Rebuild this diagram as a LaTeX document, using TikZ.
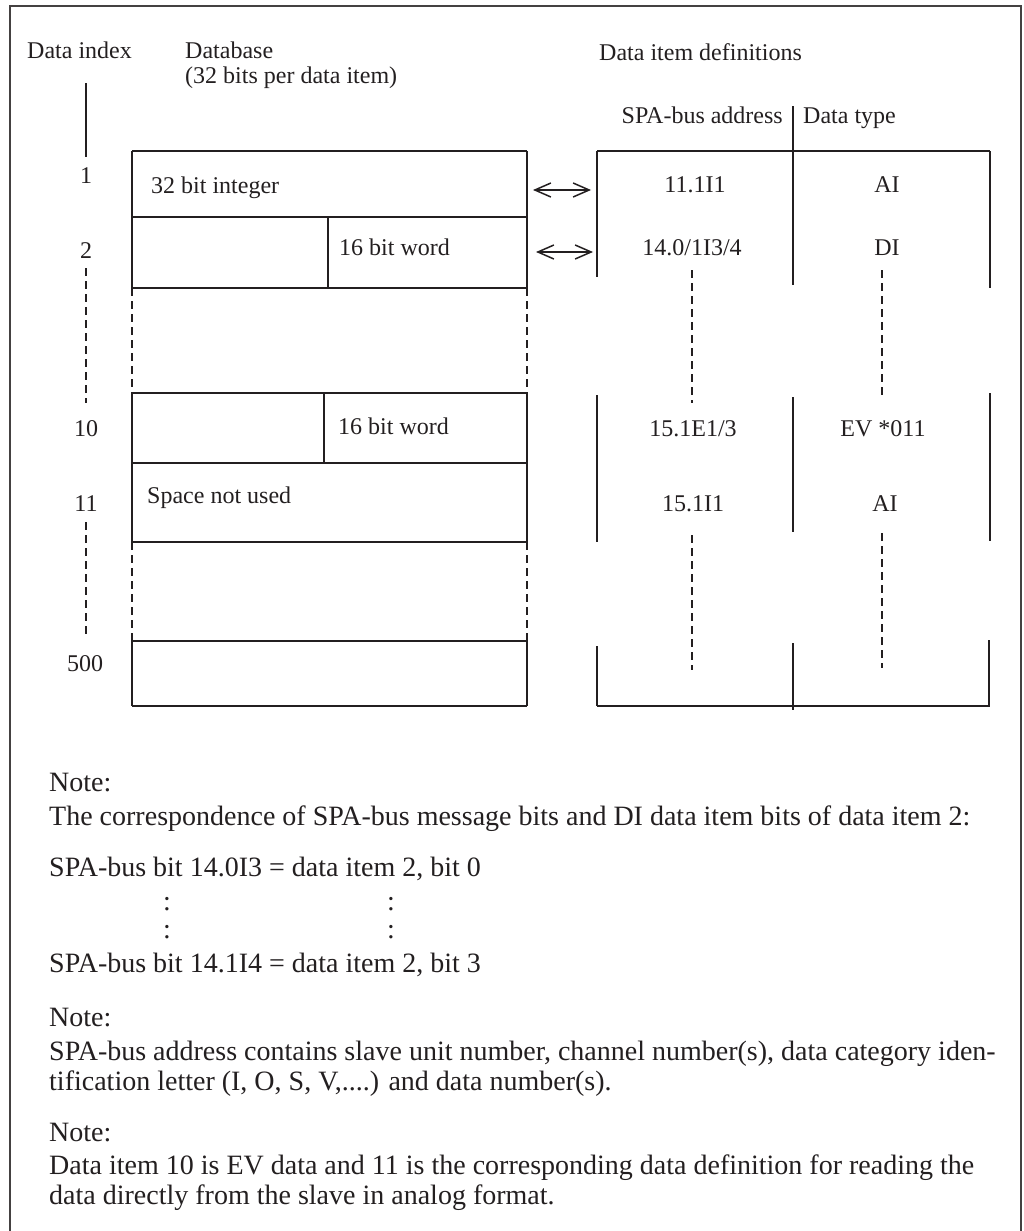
\documentclass[tikz,border=0pt]{standalone}
\usepackage{fontspec}
\setmainfont{Liberation Serif}
\usetikzlibrary{arrows.meta}
\definecolor{ink}{HTML}{231F20}
\begin{document}
\begin{tikzpicture}[x=1pt,y=-1pt,
 lbl/.style={inner sep=0pt, anchor=base, font=\fontsize{24}{28}\selectfont, text=ink},
 lblw/.style={lbl, anchor=base west},
 note/.style={inner sep=0pt, anchor=base west, font=\fontsize{28}{33}\selectfont, text=ink},
 tline/.style={draw=ink, line width=1.7pt},
 dline/.style={draw=ink, line width=1.7pt, dash pattern=on 8pt off 5pt},
 frameline/.style={draw=ink!85, line width=1.3pt},
 dbl/.style={draw=ink, line width=1.5pt, arrows={Straight Barb[length=16pt,width=14pt]-Straight Barb[length=16pt,width=14pt]}}]
\useasboundingbox (0,0) rectangle (1023,1231);
% outer frame
\draw[frameline] (10,1240) -- (10,6) -- (1021,6) -- (1021,1240);

% headings
\node[lblw] (hidx) at (27,59) {Data index};
\node[lblw] (hdb) at (185,59) {Database};
\node[lblw] (hdb2) at (185,83) {(32 bits per data item)};
\node[lblw] (hdef) at (599,61) {Data item definitions};
\node[lbl, anchor=base east] (hspa) at (783,123) {SPA-bus address};
\node[lblw] (htype) at (803,123) {Data type};

% data index column
\draw[tline] (86,83) -- (86,157);
\node[lbl] (i1) at (86,183) {1};
\node[lbl] (i2) at (86,258) {2};
\node[lbl] (i10) at (86,436) {10};
\node[lbl] (i11) at (86,511) {11};
\node[lbl] (i500) at (85,671) {500};
\draw[dline] (86,268) -- (86,403);
\draw[dline] (86,522) -- (86,638);

% database table
\foreach \y in {151,217,288,393,463,542,641,706}
  \draw[tline] (132,\y) -- (527,\y);
\foreach \x in {132,527} {
  \draw[tline] (\x,151) -- (\x,288);
  \draw[dline] (\x,288) -- (\x,393);
  \draw[tline] (\x,393) -- (\x,542);
  \draw[dline] (\x,542) -- (\x,641);
  \draw[tline] (\x,641) -- (\x,706);
}
\draw[tline] (328,217) -- (328,288);
\draw[tline] (324,393) -- (324,463);
\node[lblw] (d1) at (151,193) {32 bit integer};
\node[lblw] (d2) at (339,255) {16 bit word};
\node[lblw] (d10) at (338,434) {16 bit word};
\node[lblw] (d11) at (147,503) {Space not used};

% data item definitions table
\draw[tline] (597,151) -- (990,151);
\draw[tline] (597,706) -- (990,706);
\draw[tline] (793,106) -- (793,285);
\draw[tline] (597,151) -- (597,277);
\draw[tline] (990,151) -- (990,288);
\draw[tline] (597,395) -- (597,542);
\draw[tline] (793,397) -- (793,532);
\draw[tline] (990,393) -- (990,541);
\draw[tline] (597,646) -- (597,706);
\draw[tline] (793,643) -- (793,710);
\draw[tline] (989,640) -- (989,706);
\draw[dline] (692,270) -- (692,403);
\draw[dline] (882,270) -- (882,397);
\draw[dline] (692,535) -- (692,670);
\draw[dline] (882,533) -- (882,668);
\node[lbl] (s1) at (695,192) {11.1I1};
\node[lbl] (t1) at (887,192) {AI};
\node[lbl] (s2) at (692,255) {14.0/1I3/4};
\node[lbl] (t2) at (887,255) {DI};
\node[lbl] (s10) at (693,436) {15.1E1/3};
\node[lbl] (t10) at (883,436) {EV *011};
\node[lbl] (s11) at (693,511) {15.1I1};
\node[lbl] (t11) at (885,511) {AI};

% correspondence arrows
\coordinate (a1l) at (533,190);
\coordinate (a1r) at (591,190);
\coordinate (a2l) at (536,252);
\coordinate (a2r) at (593,252);
\draw[dbl] (a1l) -- (a1r);
\draw[dbl] (a2l) -- (a2r);

% notes
\node[note] (n1) at (49,791) {Note:};
\node[note] (n1a) at (49,825) {The correspondence of SPA-bus message bits and DI data item bits of data item 2:};
\node[note] (n1b) at (49,876) {SPA-bus bit 14.0I3 = data item 2, bit 0};
\node[note, anchor=base] (c1) at (167,910) {:};
\node[note, anchor=base] (c2) at (391,910) {:};
\node[note, anchor=base] (c3) at (167,938) {:};
\node[note, anchor=base] (c4) at (391,938) {:};
\node[note] (n1c) at (49,972) {SPA-bus bit 14.1I4 = data item 2, bit 3};
\node[note] (n2) at (49,1026) {Note:};
\node[note] (n2a) at (49,1060) {SPA-bus address contains slave unit number, channel number(s), data category iden-};
\node[note] (n2b) at (49,1090) {tification letter (I, O, S, V,....) and data number(s).};
\node[note] (n3) at (49,1141) {Note:};
\node[note] (n3a) at (49,1174) {Data item 10 is EV data and 11 is the corresponding data definition for reading the};
\node[note] (n3b) at (49,1204) {data directly from the slave in analog format.};
\end{tikzpicture}
\end{document}
